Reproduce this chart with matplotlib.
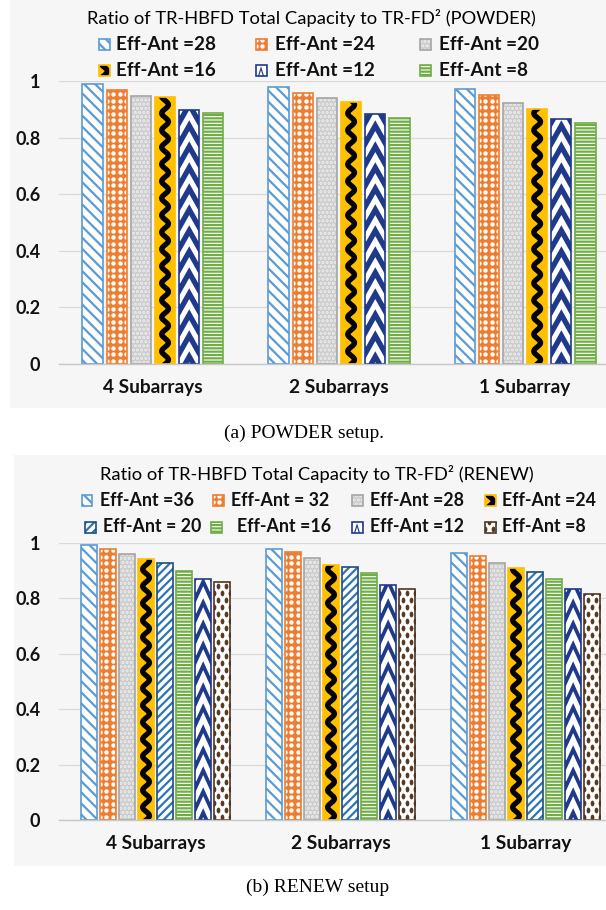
import numpy as np
import matplotlib
matplotlib.use("Agg")
import matplotlib.pyplot as plt
from matplotlib.patches import Rectangle

W, H = 606, 910
plt.rcParams['hatch.linewidth'] = 1.6
FONT = 'Lato'

categories = ['4 Subarrays', '2 Subarrays', '1 Subarray']

powder_labels = ['Eff-Ant =28', 'Eff-Ant =24', 'Eff-Ant =20',
                 'Eff-Ant =16', 'Eff-Ant =12', 'Eff-Ant =8']
powder_28 = [0.990, 0.980, 0.973]
powder_24 = [0.968, 0.958, 0.951]
powder_20 = [0.947, 0.941, 0.923]
powder_16 = [0.942, 0.927, 0.902]
powder_12 = [0.898, 0.885, 0.866]
powder_8 = [0.887, 0.869, 0.852]

renew_labels = ['Eff-Ant =36', 'Eff-Ant = 32', 'Eff-Ant =28', 'Eff-Ant =24',
                'Eff-Ant = 20', 'Eff-Ant =16', 'Eff-Ant =12', 'Eff-Ant =8']
renew_36 = [0.993, 0.978, 0.965]
renew_32 = [0.978, 0.967, 0.953]
renew_28 = [0.960, 0.946, 0.929]
renew_24 = [0.941, 0.922, 0.910]
renew_20 = [0.929, 0.912, 0.895]
renew_16 = [0.900, 0.890, 0.871]
renew_12 = [0.869, 0.848, 0.833]
renew_8 = [0.859, 0.833, 0.815]

yticks = [0, 0.2, 0.4, 0.6, 0.8, 1]
ytick_labels = ['0', '0.2', '0.4', '0.6', '0.8', '1']

# look of every series
STYLE = {
    'diag_light': dict(face='white', hatch='\\\\\\', hc='#5B9BD5', edge='#5B9BD5'),
    'diag_dark': dict(face='white', hatch='////', hc='#2E75B6', edge='#1F4E79'),
    'orange': dict(face='#ED7D31', edge='#ED7D31', dots=('white', 6.5, 6.5, 4.4, False, 'o')),
    'gray': dict(face='#cbcbcb', hatch='....', hc='#eeeeee', edge='#a5a5a5'),
    'wave': dict(face='#FFC000', edge='#FFC000'),
    'chevron': dict(face='#1F3A8A', edge='#1F3A8A'),
    'green': dict(face='white', hatch='-----', hc='#70AD47', edge='#70AD47'),
    'brown': dict(face='white', edge='#4E3621', dots=('#5A3A22', 8.0, 7.0, 5.8, True, 'oval')),
}

t = np.linspace(0, 2 * np.pi, 30)
OVAL = np.c_[0.65 * np.cos(t), np.sin(t)]


def px_scale(ax):
    bb = ax.get_position()
    x0, x1 = ax.get_xlim()
    y0, y1 = ax.get_ylim()
    return bb.width * W / (x1 - x0), bb.height * H / (y1 - y0)


def draw_bar(ax, x, h, width, kind, clip=True):
    st = STYLE[kind]
    sx, sy = px_scale(ax)
    rect = ax.bar(x, h, width, color=st['face'], edgecolor=st.get('hc') or st['face'],
                  hatch=st.get('hatch'), linewidth=0, zorder=2)[0]
    x0 = rect.get_x()
    extra = []
    if kind == 'wave':
        yy = np.linspace(0, h, 300)
        xx = x + 3.4 / sx * np.sin(2 * np.pi * yy * sy / 17.0)
        extra += ax.plot(xx, yy, color='black', lw=3.8, zorder=2.5)
    elif kind == 'chevron':
        step = 21.0 / sy
        for k in range(-1, int(h / step) + 2):
            yb = k * step
            extra += ax.plot([x0, x, x0 + width], [yb, yb + 0.85 * step, yb], color='white',
                             lw=3.6, zorder=2.5, solid_joinstyle='miter')
    elif 'dots' in st:
        col, dx, dy, d, stagger, mk = st['dots']
        xs, ys = [], []
        nrow = int(h * sy / dy) + 2
        for r in range(nrow):
            off = dx / 2 if (stagger and r % 2) else 0
            cx = x0 * sx + off
            while cx <= (x0 + width) * sx + dx:
                xs.append(cx / sx)
                ys.append((r * dy + dy / 2) / sy)
                cx += dx
        extra.append(ax.scatter(xs, ys, s=(d * 0.72) ** 2, color=col, linewidths=0,
                                marker=OVAL if mk == 'oval' else 'o', zorder=2.5))
    for a in extra:
        a.set_clip_path(rect)
    ax.bar(x, h, width, fill=False, edgecolor=st['edge'], linewidth=1.2, zorder=3,
           clip_on=clip)
    return rect


def panel(rect_px, axes_px, xlim, series, labels, kinds, slot, bw, title, title_xy,
          leg_rows, leg_cols_marker, leg_cols_text, leg_size, caption, caption_xy):
    bx, by, bw_px, bh_px = rect_px
    fig.patches.append(Rectangle((bx / W, 1 - (by + bh_px) / H), bw_px / W, bh_px / H,
                                 transform=fig.transFigure, facecolor='#f6f6f6',
                                 edgecolor='none', zorder=-5))
    l, tp, r, bt = axes_px
    ax = fig.add_axes([l / W, 1 - bt / H, (r - l) / W, (bt - tp) / H])
    ax.set_xlim(*xlim)
    ax.set_ylim(0, 1)
    ax.patch.set_visible(False)
    n = len(series)
    xs = np.arange(len(categories))
    for j, vals in enumerate(series):
        off = (j - (n - 1) / 2) * slot
        for i, v in enumerate(vals):
            draw_bar(ax, xs[i] + off, v, bw, kinds[j])
    ax.set_yticks(yticks)
    ax.set_yticklabels(ytick_labels)
    ax.set_xticks(xs)
    ax.set_xticklabels(categories)
    ax.tick_params(axis='y', length=0, pad=13.5)
    ax.tick_params(axis='x', length=0, pad=11)
    for lab in ax.get_yticklabels():
        lab.set_fontfamily(FONT)
        lab.set_fontweight('bold')
        lab.set_fontsize(13)
        lab.set_color('#111111')
    for lab in ax.get_xticklabels():
        lab.set_fontfamily(FONT)
        lab.set_fontweight('bold')
        lab.set_fontsize(13.8)
        lab.set_color('#111111')
    ax.grid(axis='y', color='#d9d9d9', lw=0.9, zorder=0)
    ax.set_axisbelow(True)
    for s in ['left', 'right', 'top']:
        ax.spines[s].set_visible(False)
    ax.spines['bottom'].set_color('#c8c8c8')
    ax.spines['bottom'].set_linewidth(1.0)
    ax.spines['bottom'].set_zorder(3.5)

    fig.text(title_xy[0] / W, 1 - title_xy[1] / H, title, ha='center', va='center',
             fontsize=13.2, family=FONT, color='black')

    ncol = len(leg_cols_marker[0])
    for k, lab in enumerate(labels):
        row, col = divmod(k, ncol)
        cy = leg_rows[row]
        cx = leg_cols_marker[row][col]
        hax = fig.add_axes([(cx - 5.5) / W, 1 - (cy + 5.5) / H, 11 / W, 11 / H])
        hax.set_xlim(-0.5, 0.5)
        hax.set_ylim(0, 1)
        hax.axis('off')
        draw_bar(hax, 0, 1, 1, kinds[k], clip=False)
        fig.text(leg_cols_text[row][col] / W, 1 - cy / H, lab, ha='left', va='center',
                 fontsize=leg_size, fontweight='bold', family=FONT, color='#111111')

    fig.text(caption_xy[0] / W, 1 - caption_xy[1] / H, caption, ha='center', va='center',
             fontsize=14, family='Liberation Serif', color='black')
    return ax


fig = plt.figure(figsize=(W / 100, H / 100), dpi=100)
fig.patch.set_facecolor('white')

panel((10, 0, 596, 408), (59, 81, 606, 364), (-0.505, 2.435),
      [powder_28, powder_24, powder_20, powder_16, powder_12, powder_8],
      powder_labels, ['diag_light', 'orange', 'gray', 'wave', 'chevron', 'green'],
      0.130, 0.108,
      'Ratio of TR-HBFD Total Capacity to TR-FD² (POWDER)', (311, 18),
      [44, 70], [[104, 261, 425], [104, 261, 425]], [[116, 275, 439], [116, 275, 439]],
      13.6, '(a) POWDER setup.', (304, 433))

panel((14, 455, 592, 411), (59, 543, 606, 820), (-0.522, 2.435),
      [renew_36, renew_32, renew_28, renew_24, renew_20, renew_16, renew_12, renew_8],
      renew_labels,
      ['diag_light', 'orange', 'gray', 'wave', 'diag_dark', 'green', 'chevron', 'brown'],
      0.103, 0.088,
      'Ratio of TR-HBFD Total Capacity to TR-FD² (RENEW)', (317, 474),
      [500, 527], [[87, 218, 357, 490], [90, 216, 357, 490]],
      [[100, 231, 370, 502], [103, 237, 370, 502]],
      12.8, '(b) RENEW setup', (318, 887))

fig.savefig('out.png', dpi=100)
